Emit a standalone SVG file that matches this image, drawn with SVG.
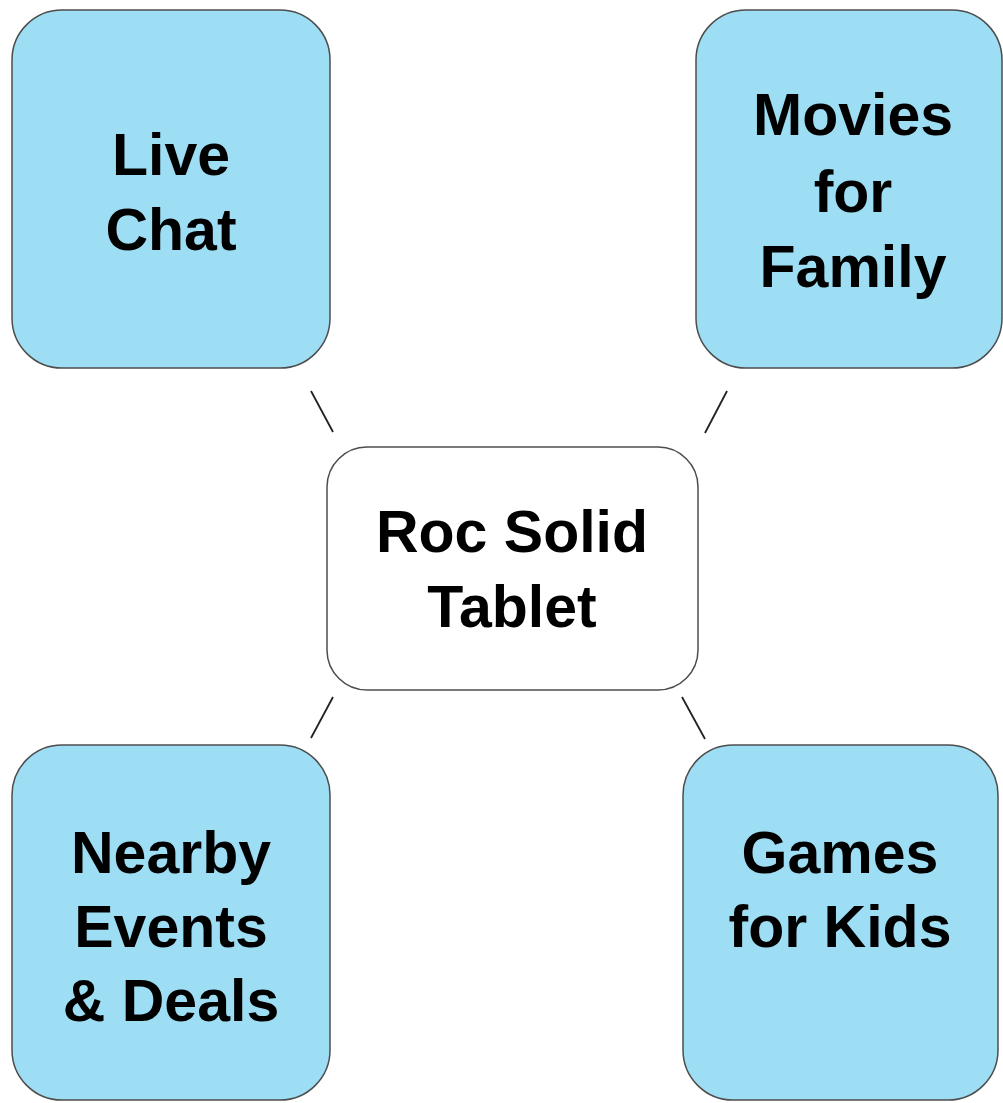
<svg xmlns="http://www.w3.org/2000/svg" width="1003" height="1103" viewBox="0 0 1003 1103">
<style>
.box{fill:#9DDEF4;stroke:#4d4d4d;stroke-width:1.5}
.ctr{fill:#ffffff;stroke:#4d4d4d;stroke-width:1.5}
.t{font-family:"Liberation Sans",Arial,sans-serif;font-weight:bold;font-size:59px;fill:#000;text-anchor:middle}
.c{stroke:#222;stroke-width:1.8;fill:none}
</style>
<rect width="1003" height="1103" fill="#ffffff"/>
<g id="connectors">
<line class="c" x1="311" y1="391" x2="333" y2="432"/>
<line class="c" x1="727" y1="391" x2="705" y2="433"/>
<line class="c" x1="333" y1="697" x2="311" y2="738"/>
<line class="c" x1="682" y1="697" x2="705" y2="739"/>
</g>
<g id="live-chat">
<rect class="box" x="12" y="10" width="318" height="358" rx="50" ry="50"/>
<text class="t" x="171" y="175">Live</text>
<text class="t" x="171" y="250">Chat</text>
</g>
<g id="movies">
<rect class="box" x="696" y="10" width="306" height="358" rx="50" ry="50"/>
<text class="t" x="853" y="135">Movies</text>
<text class="t" x="853" y="212">for</text>
<text class="t" x="853" y="287">Family</text>
</g>
<g id="center">
<rect class="ctr" x="327" y="447" width="371" height="243" rx="40" ry="40"/>
<text class="t" x="512" y="552">Roc Solid</text>
<text class="t" x="512" y="627">Tablet</text>
</g>
<g id="nearby">
<rect class="box" x="12" y="745" width="318" height="355" rx="50" ry="50"/>
<text class="t" x="171" y="873">Nearby</text>
<text class="t" x="171" y="947">Events</text>
<text class="t" x="171" y="1021">&amp; Deals</text>
</g>
<g id="games">
<rect class="box" x="683" y="745" width="315" height="355" rx="50" ry="50"/>
<text class="t" x="840" y="873">Games</text>
<text class="t" x="840" y="947">for Kids</text>
</g>
</svg>
